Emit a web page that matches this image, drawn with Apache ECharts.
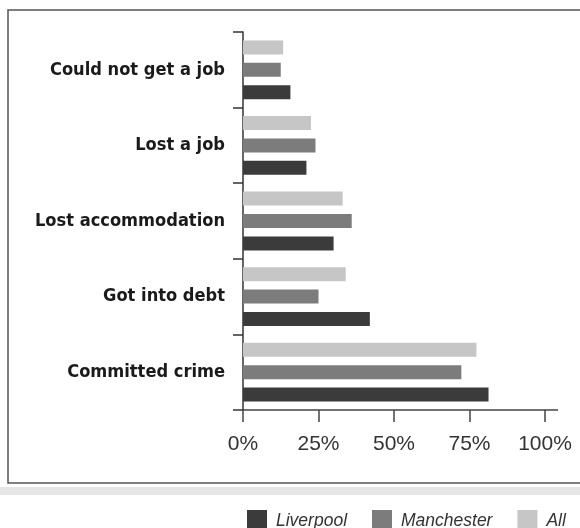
<!DOCTYPE html>
<html>
<head>
<meta charset="utf-8">
<script src="https://cdn.jsdelivr.net/npm/echarts@6/dist/echarts.min.js"></script>
<style>html,body{margin:0;padding:0;background:#fff}#c{width:580px;height:528px}</style>
</head>
<body>
<div id="c"></div>
<script>
const categories = ['Could not get a job', 'Lost a job', 'Lost accommodation', 'Got into debt', 'Committed crime'];
const liverpool = [15.7, 21, 30, 42, 81.3];
const manchester = [12.5, 24, 36, 25, 72.3];
const allArea = [13.3, 22.5, 33, 34, 77.3];
const xTicks = [0, 25, 50, 75, 100];
const seriesNames = ['Liverpool', 'Manchester', 'All'];
const colors = ['#3b3b3b', '#7c7c7c', '#c6c6c6'];

const chart = echarts.init(document.getElementById('c'), null, {renderer: 'canvas'});
const barBase = {type: 'bar', barWidth: 14, barGap: '60%'};
chart.setOption({
  animation: false,
  backgroundColor: '#fff',
  graphic: [
    {type: 'rect', shape: {x: 8, y: 10, width: 590, height: 473}, style: {fill: 'none', stroke: '#555', lineWidth: 1.5}},
    {type: 'rect', shape: {x: 0, y: 487, width: 580, height: 8}, style: {fill: '#e6e6e6'}},
    {type: 'line', shape: {x1: 545, y1: 410, x2: 558, y2: 410}, style: {stroke: '#444', lineWidth: 1.5}}
  ],
  grid: {left: 243, right: 35, top: 32, bottom: 118, containLabel: false},
  legend: {
    left: 242, top: 505, itemWidth: 20, itemHeight: 22, itemGap: 25,
    icon: 'rect',
    data: seriesNames,
    textStyle: {fontFamily: 'Liberation Sans', fontStyle: 'italic', fontSize: 17.5, color: '#333', padding: [0, 0, 0, 4]}
  },
  xAxis: {
    type: 'value', min: xTicks[0], max: xTicks[xTicks.length - 1], interval: 25,
    axisLine: {show: true, lineStyle: {color: '#444', width: 1.5}},
    axisTick: {show: true, length: 12, lineStyle: {color: '#444', width: 1.5}},
    splitLine: {show: false},
    axisLabel: {formatter: '{value}%', fontFamily: 'Liberation Sans', fontSize: 21, color: '#333', margin: 24}
  },
  yAxis: {
    type: 'category', inverse: true, data: categories,
    axisLine: {show: true, lineStyle: {color: '#333', width: 1.5}},
    axisTick: {show: true, length: 10, lineStyle: {color: '#333', width: 1.5}},
    axisLabel: {fontFamily: 'DejaVu Sans Condensed', fontWeight: 'bold', fontSize: 18.1, color: '#1a1a1a', margin: 18}
  },
  series: [
    Object.assign({name: seriesNames[2], data: allArea, itemStyle: {color: colors[2]}}, barBase),
    Object.assign({name: seriesNames[1], data: manchester, itemStyle: {color: colors[1]}}, barBase),
    Object.assign({name: seriesNames[0], data: liverpool, itemStyle: {color: colors[0]}}, barBase)
  ]
});
</script>
</body>
</html>
